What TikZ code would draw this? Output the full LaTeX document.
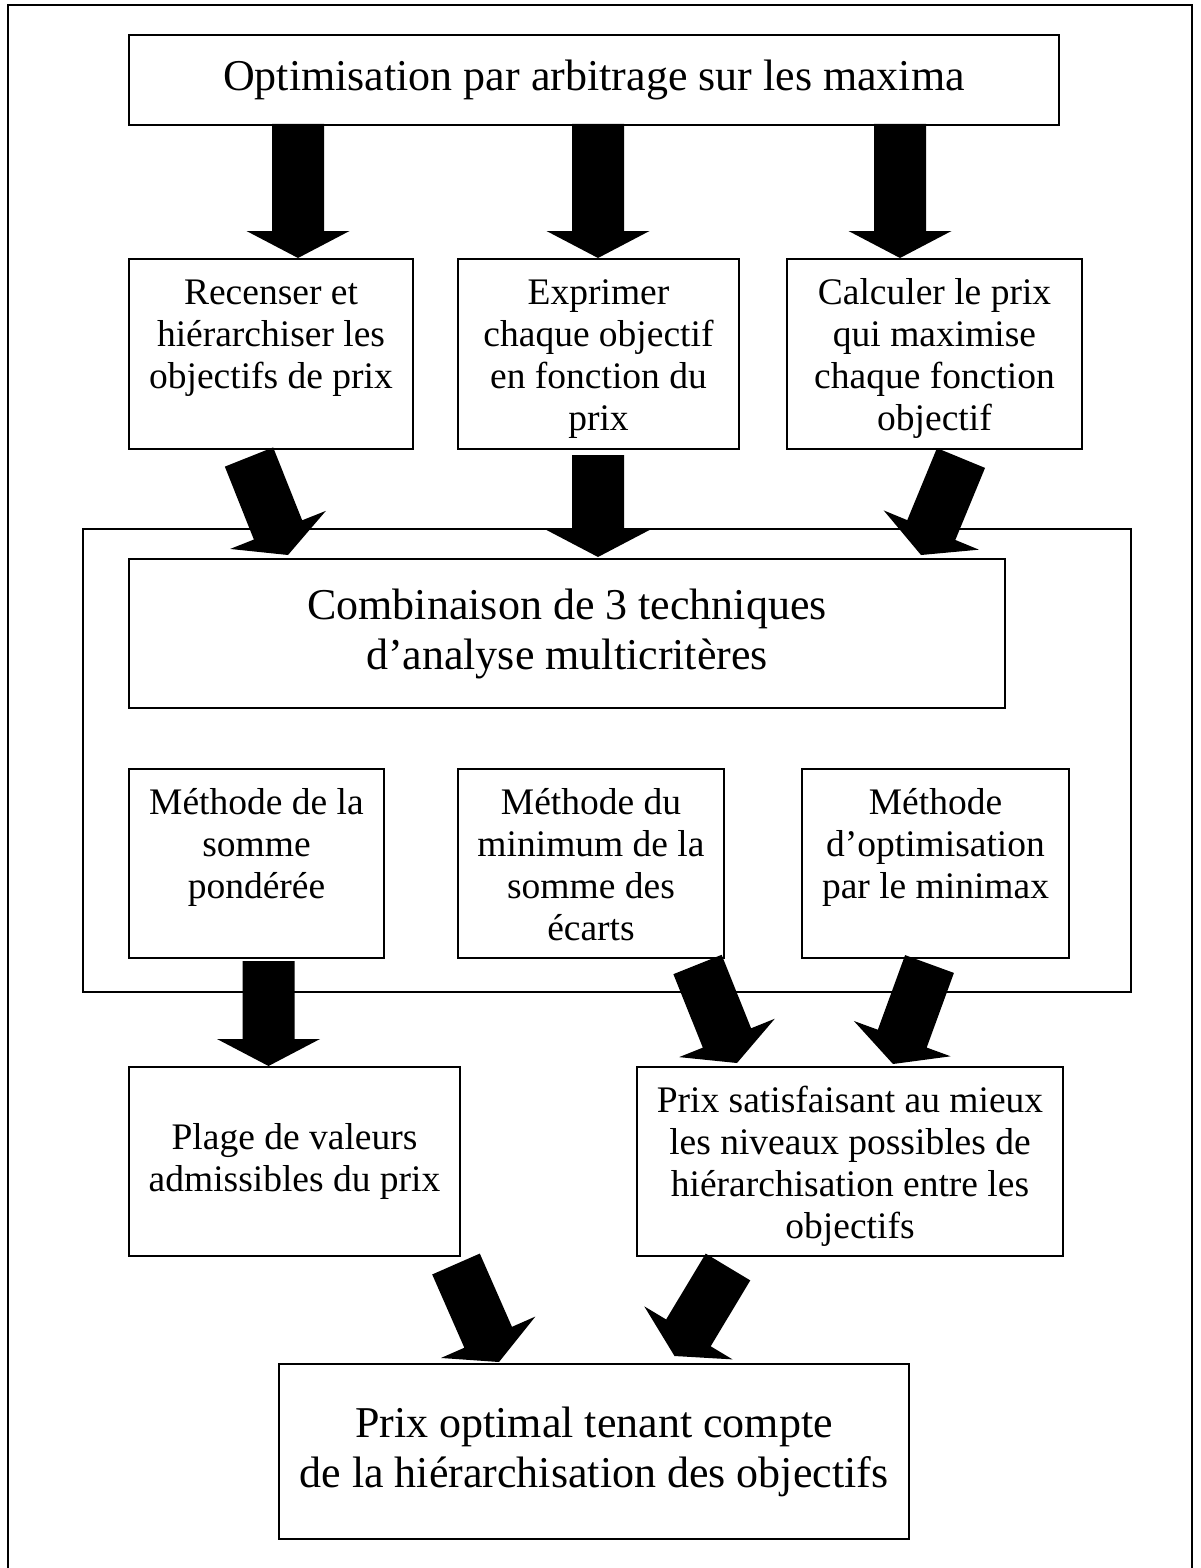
\documentclass[tikz,border=0pt]{standalone}
\usepackage{fontspec}
\setmainfont{Liberation Serif}
\usetikzlibrary{calc}
\newcommand{\tb}[3]{\parbox[c][#2][t]{#1}{\centering\rule{0pt}{22.5pt}#3}}
\newcommand{\barrow}[2]{%
  \path ($(#2)!13.5pt!(#1)$) coordinate (hb);
  \fill ($(#1)!13pt!90:(#2)$) -- ($(hb)!13pt!90:(#2)$) -- ($(hb)!25.75pt!90:(#2)$) -- (#2)
     -- ($(hb)!25.75pt!-90:(#2)$) -- ($(hb)!13pt!-90:(#2)$) -- ($(#1)!13pt!-90:(#2)$) -- cycle;}
\begin{document}
\begin{tikzpicture}[x=0.5pt,y=-0.5pt,
  box/.style={draw, line width=1pt, inner sep=0pt, anchor=north west, fill=white},
  small/.style={font=\fontsize{18.75pt}{21pt}\selectfont},
  big/.style={font=\fontsize{22pt}{25pt}\selectfont, align=center},
  frame/.style={line width=1.1pt}]
\useasboundingbox (0,0) rectangle (1200,1568);
% outer frame (open at the bottom of the page)
\draw[frame] (8,1600) -- (8,5) -- (1192,5) -- (1192,1600);
% container of the three techniques
\node[box, minimum width=524pt, minimum height=231.5pt] (cont) at (82,528) {};
% boxes
\node[box, big, minimum width=465pt, minimum height=45pt] (top) at (128,34) {Optimisation par arbitrage sur les maxima};
\node[box, small] (r1) at (128,258) {\tb{142pt}{95pt}{Recenser et\\hiérarchiser les\\objectifs de prix}};
\node[box, small] (r2) at (457,258) {\tb{140.5pt}{95pt}{Exprimer\\chaque objectif\\en fonction du\\prix}};
\node[box, small] (r3) at (786,258) {\tb{147.5pt}{95pt}{Calculer le prix\\qui maximise\\chaque fonction\\objectif}};
\node[box, big, minimum width=438pt, minimum height=74.5pt] (comb) at (128,558) {Combinaison de 3 techniques\\d’analyse multicritères};
\node[box, small] (m1) at (128,768) {\tb{127.5pt}{94.5pt}{Méthode de la\\somme\\pondérée}};
\node[box, small] (m2) at (457,768) {\tb{133pt}{94.5pt}{Méthode du\\minimum de la\\somme des\\écarts}};
\node[box, small] (m3) at (801,768) {\tb{133.5pt}{94.5pt}{Méthode\\d’optimisation\\par le minimax}};
\node[box, small, align=center, minimum width=165.5pt, minimum height=94.5pt] (plage) at (128,1066) {Plage de valeurs\\admissibles du prix};
\node[box, small] (prix) at (636,1066) {\tb{213pt}{94.5pt}{Prix satisfaisant au mieux\\les niveaux possibles de\\hiérarchisation entre les\\objectifs}};
\node[box, big, minimum width=315pt, minimum height=87.5pt] (final) at (278,1363) {Prix optimal tenant compte\\de la hiérarchisation des objectifs};
% arrow end points
\coordinate (a1s) at (298,124);   \coordinate (a1e) at (298,258);
\coordinate (a2s) at (598,124);   \coordinate (a2e) at (598,258);
\coordinate (a3s) at (900,124);   \coordinate (a3e) at (900,258);
\coordinate (b1s) at (249,457);   \coordinate (b1e) at (288,555);
\coordinate (b2s) at (598,455);   \coordinate (b2e) at (598,557);
\coordinate (b3s) at (961,458);   \coordinate (b3e) at (921,555);
\coordinate (c1s) at (268.5,961); \coordinate (c1e) at (268.5,1066);
\coordinate (c2s) at (697.5,964.5); \coordinate (c2e) at (737,1063);
\coordinate (c3s) at (929.5,964); \coordinate (c3e) at (893,1064);
\coordinate (d1s) at (456,1264);  \coordinate (d1e) at (499,1362);
\coordinate (d2s) at (728,1267);  \coordinate (d2e) at (674.5,1356);
% block arrows
\barrow{a1s}{a1e}\barrow{a2s}{a2e}\barrow{a3s}{a3e}
\barrow{b1s}{b1e}\barrow{b2s}{b2e}\barrow{b3s}{b3e}
\barrow{c1s}{c1e}\barrow{c2s}{c2e}\barrow{c3s}{c3e}
\barrow{d1s}{d1e}\barrow{d2s}{d2e}
\end{tikzpicture}
\end{document}
